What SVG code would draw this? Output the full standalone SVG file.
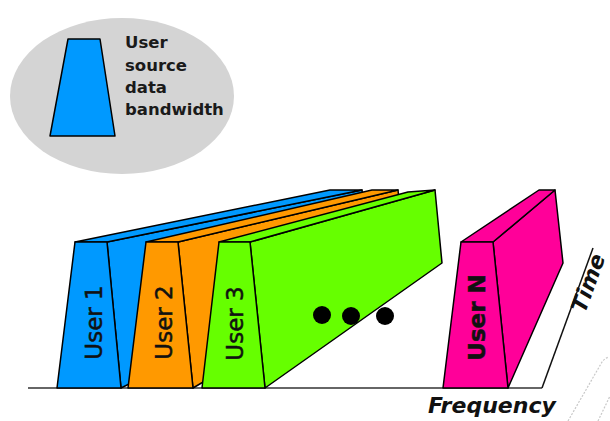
<svg xmlns="http://www.w3.org/2000/svg" width="610" height="421" viewBox="0 0 610 421">
  <style>
    .edge { stroke: #000; stroke-width: 1.5; stroke-linejoin: round; }
    .blue { fill: #0099ff; }
    .orange { fill: #ff9900; }
    .green { fill: #66ff00; }
    .pink { fill: #ff0099; }
    .lbl { font-family: "DejaVu Sans", Verdana, sans-serif; font-size: 23px; fill: #111; stroke: #111; stroke-width: 0.5; text-anchor: middle; }
    .legend-text { font-family: "DejaVu Sans", Verdana, sans-serif; font-size: 16.5px; font-weight: bold; fill: #1a1a1a; }
    .axis-text { font-family: "DejaVu Sans", Verdana, sans-serif; font-size: 22px; font-weight: bold; font-style: italic; fill: #111; }
  </style>

  <rect width="610" height="421" fill="#fff"/>

  <!-- legend: one channel's bandwidth -->
  <g id="legend">
    <ellipse cx="122" cy="96" rx="112" ry="78" fill="#d4d4d4"/>
    <polygon class="blue edge" points="68,39 100,39 115,136 50,136"/>
    <text class="legend-text" x="125" y="48">User</text>
    <text class="legend-text" x="125" y="71">source</text>
    <text class="legend-text" x="125" y="93">data</text>
    <text class="legend-text" x="125" y="115">bandwidth</text>
  </g>

  <!-- frequency / time axes -->
  <g id="axes">
    <line x1="28" y1="388" x2="542" y2="388" stroke="#666" stroke-width="2"/>
    <line x1="542" y1="388" x2="593" y2="248" stroke="#111" stroke-width="1.5"/>
    <text class="axis-text" x="428" y="413">Frequency</text>
    <text class="axis-text" font-size="18" transform="translate(585,314) rotate(-70)">Time</text>
  </g>

  <!-- user channels, back to front -->
  <g id="user1">
    <polygon class="blue edge" points="107,242 362,190 370,265 121,388"/>
    <polygon class="blue edge" points="75,242 330,190 362,190 107,242"/>
    <polygon class="blue edge" points="75,242 107,242 121,388 57,388"/>
    <text class="lbl" transform="translate(102,322.5) rotate(-90)">User 1</text>
  </g>

  <g id="user2">
    <polygon class="orange edge" points="178,242 398,190 405,263 193,388"/>
    <polygon class="orange edge" points="146,242 372,190 398,190 178,242"/>
    <polygon class="orange edge" points="146,242 178,242 193,388 128,388"/>
    <text class="lbl" transform="translate(172,322.5) rotate(-90)">User 2</text>
  </g>

  <g id="user3">
    <polygon class="green edge" points="250,242 435,190 442,263 265,388"/>
    <polygon class="green edge" points="219,242 408,192 435,190 250,242"/>
    <polygon class="green edge" points="219,242 250,242 265,388 202,388"/>
    <text class="lbl" transform="translate(243,323.5) rotate(-90)">User 3</text>
  </g>

  <!-- ellipsis between user 3 and user N -->
  <g id="more-users" fill="#000">
    <circle cx="322" cy="315" r="9"/>
    <circle cx="351" cy="316" r="9"/>
    <circle cx="385" cy="316" r="9"/>
  </g>

  <g id="userN">
    <polygon class="pink edge" points="493,242 555,190 563,263 508,388"/>
    <polygon class="pink edge" points="461,242 539,190 555,190 493,242"/>
    <polygon class="pink edge" points="461,242 493,242 508,388 443,388"/>
    <text class="lbl" font-weight="bold" font-size="22" stroke-width="0" transform="translate(485,317.5) rotate(-90)">User N</text>
  </g>

  <!-- faint dotted strokes in the lower right corner -->
  <g fill="none" stroke="#c8c8c8" stroke-width="1.2" stroke-dasharray="2 1.5">
    <path d="M568,421 L602,362 Q605,358 609,357"/>
    <path d="M598,421 L610,396"/>
  </g>
</svg>
